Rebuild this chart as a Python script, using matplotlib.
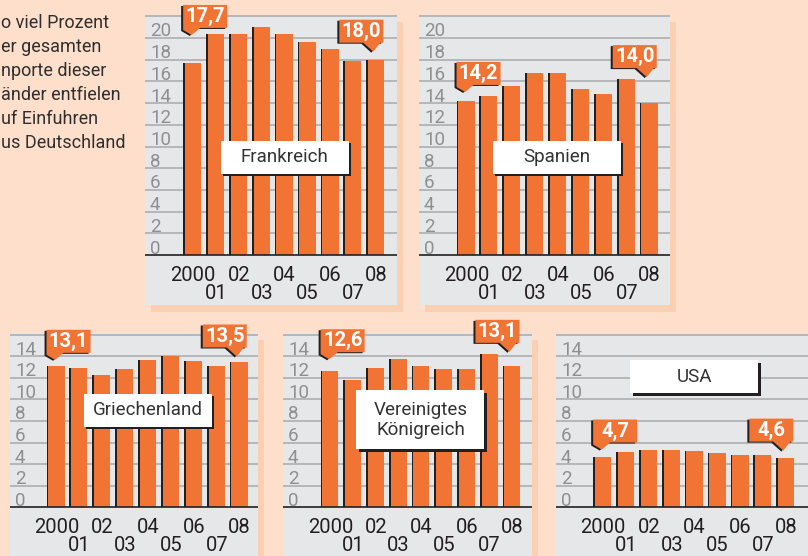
import matplotlib
matplotlib.use('Agg')
import matplotlib.pyplot as plt
from matplotlib.patches import Rectangle, Polygon
from matplotlib.transforms import Affine2D, ScaledTranslation, IdentityTransform, offset_copy

plt.rcParams['font.family'] = ['Roboto', 'DejaVu Sans']

# ---------------- data ----------------
years = ['2000', '01', '02', '03', '04', '05', '06', '07', '08']
countries = ['Frankreich', 'Spanien', 'Griechenland', 'Vereinigtes\nKönigreich', 'USA']
frankreich = [17.7, 20.4, 20.4, 21.0, 20.4, 19.6, 19.0, 17.9, 18.0]
spanien = [14.2, 14.7, 15.6, 16.8, 16.8, 15.3, 14.8, 16.2, 14.0]
griechenland = [13.1, 12.9, 12.25, 12.8, 13.6, 14.0, 13.55, 13.1, 13.5]
vereinigtes_koenigreich = [12.6, 11.8, 12.9, 13.7, 13.1, 12.8, 12.8, 14.2, 13.1]
usa = [4.7, 5.1, 5.3, 5.3, 5.2, 5.0, 4.85, 4.85, 4.6]
first_labels = ['17,7', '14,2', '13,1', '12,6', '4,7']
last_labels = ['18,0', '14,0', '13,5', '13,1', '4,6']
yticks_top = [0, 2, 4, 6, 8, 10, 12, 14, 16, 18, 20]
yticks_bottom = [0, 2, 4, 6, 8, 10, 12, 14]
intro_lines = ['o viel Prozent', 'er gesamten', 'nporte dieser',
               'änder entfielen', 'uf Einfuhren', 'us Deutschland']
series = [frankreich, spanien, griechenland, vereinigtes_koenigreich, usa]

# ---------------- style / layout ----------------
W, H = 808, 556
BG = '#fddfcb'
SHADOW = '#fbcfb2'
PANEL = '#e6e7e8'
GRID = '#a7a9ac'
ORANGE = '#f27435'
DARK = '#231f20'

# panel geometry in pixels: left, top, right, bottom, zero-line y, px/unit, bar0 centre, pitch
layout = [
    dict(l=145, t=15, r=397, b=305, z=255.0, u=10.85, c0=193.0, p=22.9, ticks=yticks_top, gtop=22,
         box=(4.0, 9.0, 33), g1=28, g2=8),
    dict(l=419, t=15, r=670, b=305, z=255.0, u=10.85, c0=466.4, p=22.9, ticks=yticks_top, gtop=22,
         box=(3.95, 9.0, 33), g1=9, g2=26),
    dict(l=10, t=333, r=258, b=556, z=507.3, u=10.8, c0=56.4, p=22.9, ticks=yticks_bottom, gtop=16,
         box=(3.99, 9.0, 33), g1=6, g2=5),
    dict(l=283, t=333, r=532, b=556, z=507.3, u=10.8, c0=330.4, p=22.75, ticks=yticks_bottom, gtop=16,
         box=(3.96, 8.1, 59), g1=12, g2=14),
    dict(l=556, t=334, r=808, b=556, z=507.3, u=10.8, c0=603.0, p=22.9, ticks=yticks_bottom, gtop=16,
         box=(3.98, 12.1, 33), g1=7, g2=7),
]

fig = plt.figure(figsize=(W / 100, H / 100), dpi=100)
fig.patch.set_facecolor(BG)

# intro text
for k, line in enumerate(intro_lines):
    fig.text(1 / W, 1 - (28 + 24 * k) / H, line, ha='left', va='baseline',
             fontsize=13, color='#2f2f2f')

BW = 0.71
DOFF = 0.075

for idx, (vals, name, L) in enumerate(zip(series, countries, layout)):
    # panel shadow
    fig.add_artist(Rectangle((L['l'] + 6, H - L['b'] - 7), L['r'] - L['l'], L['b'] - L['t'],
                             transform=IdentityTransform(), facecolor=SHADOW,
                             edgecolor='none', zorder=-1))
    ax = fig.add_axes([L['l'] / W, (H - L['b']) / H, (L['r'] - L['l']) / W, (L['b'] - L['t']) / H])
    ax.set_facecolor(PANEL)
    for s in ax.spines.values():
        s.set_visible(False)
    ax.set_xticks([])
    ax.set_yticks([])
    ax.set_xlim((L['l'] - L['c0']) / L['p'], (L['r'] - L['c0']) / L['p'])
    ax.set_ylim((L['z'] - L['b']) / L['u'], (L['z'] - L['t']) / L['u'])

    # grid
    for v in L['ticks'][1:] + [L['gtop']]:
        ax.axhline(v, color=GRID, lw=1.1, zorder=1)
    ax.axhline(0, color=DARK, lw=1.2, zorder=3)

    # y labels
    ytr = offset_copy(ax.get_yaxis_transform(), fig=fig, x=5, y=1.5, units='dots')
    for v in L['ticks']:
        ax.text(0, v, str(v), transform=ytr, ha='left', va='baseline',
                fontsize=13.5, color='#8d8f92', zorder=2)

    # bars
    xs = list(range(len(vals)))
    ax.bar([x - DOFF for x in xs], vals, width=BW, color=DARK, zorder=2, linewidth=0)
    ax.bar(xs, vals, width=BW, color=ORANGE, zorder=2.1, linewidth=0)

    # x labels (two rows)
    for i, lab in enumerate(years):
        dy = -26 if i % 2 == 0 else -44
        tr = offset_copy(ax.transData, fig=fig, x=0, y=dy, units='dots')
        ax.text(i, 0, lab, transform=tr, ha='center', va='baseline',
                fontsize=14.5, color=DARK, clip_on=False)

    # country box
    bx, by, bh = L['box']
    btr = Affine2D() + ScaledTranslation(bx, by, ax.transData)
    ax.add_patch(Rectangle((-64 + 2.5, -bh / 2 - 2.5), 128, bh, transform=btr,
                           facecolor=DARK, edgecolor='none', zorder=4))
    ax.add_patch(Rectangle((-64, -bh / 2), 128, bh, transform=btr,
                           facecolor='white', edgecolor='none', zorder=4.1))
    ax.text(bx, by, name, ha='center', va='center', fontsize=13.5, color='#333333',
            linespacing=1.1, zorder=4.2)

    # callouts
    g1 = L['g1']
    ax1 = 0 - BW / 2 - DOFF
    tr1 = Affine2D() + ScaledTranslation(ax1, vals[0], ax.transData)
    pts1 = [(0, g1 + 30), (44, g1 + 30), (44, g1 + 7), (17, g1 + 7), (8.5, g1), (0, g1 + 5)]
    ax.add_patch(Polygon([(x - 2, y - 1) for x, y in pts1], closed=True, transform=tr1,
                         facecolor=DARK, edgecolor='none', zorder=5, clip_on=False))
    ax.add_patch(Polygon(pts1, closed=True, transform=tr1, facecolor=ORANGE,
                         edgecolor='none', zorder=5.1, clip_on=False))
    ttr1 = offset_copy(ax.transData, fig=fig, x=22, y=g1 + 18.5, units='dots')
    ax.text(ax1, vals[0], first_labels[idx], transform=ttr1, ha='center', va='center',
            fontsize=14.5, fontweight='semibold', color='white', zorder=5.2, clip_on=False)

    g2 = L['g2']
    n = len(vals) - 1
    ax2 = n + BW / 2
    tr2 = Affine2D() + ScaledTranslation(ax2, vals[-1], ax.transData)
    pts2 = [(-45, g2 + 9), (-45, g2 + 32), (-1, g2 + 32), (-1, g2 + 9), (-4, g2 + 9),
            (-11, g2), (-21, g2 + 9)]
    ax.add_patch(Polygon([(x - 2, y - 1) for x, y in pts2], closed=True, transform=tr2,
                         facecolor=DARK, edgecolor='none', zorder=5, clip_on=False))
    ax.add_patch(Polygon(pts2, closed=True, transform=tr2, facecolor=ORANGE,
                         edgecolor='none', zorder=5.1, clip_on=False))
    ttr2 = offset_copy(ax.transData, fig=fig, x=-23, y=g2 + 20.5, units='dots')
    ax.text(ax2, vals[-1], last_labels[idx], transform=ttr2, ha='center', va='center',
            fontsize=14.5, fontweight='semibold', color='white', zorder=5.2, clip_on=False)

fig.savefig('out.png', dpi=100, facecolor=BG)
